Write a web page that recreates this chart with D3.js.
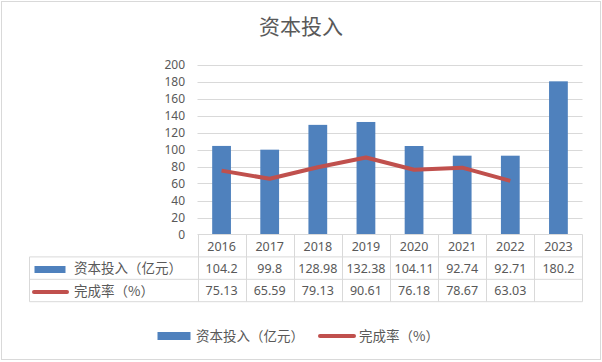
<!DOCTYPE html>
<html>
<head>
<meta charset="utf-8">
<script src="https://cdn.jsdelivr.net/npm/d3@7"></script>
<style>
body{margin:0;background:#fff;}
text{font-family:"Noto Sans CJK SC","Noto Sans",sans-serif;fill:#595959;}
text.num{font-family:"Noto Sans",sans-serif;}
</style>
</head>
<body>
<script>
// data
var years = ["2016","2017","2018","2019","2020","2021","2022","2023"]
var invest = [104.2,99.8,128.98,132.38,104.11,92.74,92.71,180.2]
var rate = [75.13,65.59,79.13,90.61,76.18,78.67,63.03,null]
var yTicks = [0,20,40,60,80,100,120,140,160,180,200]
var investName = "资本投入（亿元）"
var rateName = "完成率（%）"

var W = 602, H = 362
var plotLeft = 197.5, plotRight = 582.5, plotTop = 64.5, plotBottom = 234.5
var rowH = 22.4, tableLeft = 29.5
var blue = "#4f81bd", red = "#c0504d", grid = "#d9d9d9"

var svg = d3.select("body").append("svg")
	.attr("width", W).attr("height", H)

//border
svg.append("rect")
	.attr("x",1.5).attr("y",1.5).attr("width",W-3).attr("height",H-4)
	.attr("fill","#fff").attr("stroke","#d9d9d9")

//title
svg.append("text")
	.attr("x",301).attr("y",34)
	.attr("text-anchor","middle")
	.attr("font-size","21px")
	.text("资本投入")

var x = d3.scaleBand().domain(years).range([plotLeft,plotRight]).paddingInner(0.61).paddingOuter(0.305)
var xc = d3.scaleBand().domain(years).range([plotLeft,plotRight])
var y = d3.scaleLinear().domain([0,200]).range([plotBottom,plotTop])

//grid
svg.append("g").selectAll("line").data(yTicks.slice(1)).enter()
	.append("line")
		.attr("x1",plotLeft).attr("x2",plotRight)
		.attr("y1",function(d){return Math.round(y(d))+0.5})
		.attr("y2",function(d){return Math.round(y(d))+0.5})
		.attr("stroke",grid)

//y labels
svg.append("g").selectAll("text").data(yTicks).enter()
	.append("text")
		.attr("class","num")
		.attr("x",185).attr("y",function(d){return y(d)+4.5})
		.attr("text-anchor","end")
		.attr("font-size","12px")
		.text(function(d){return d})

//bars
svg.append("g").selectAll("rect").data(invest).enter()
	.append("rect")
		.attr("x",function(d,i){return x(years[i])})
		.attr("width",x.bandwidth())
		.attr("y",function(d){return y(d)})
		.attr("height",function(d){return y(0)-y(d)})
		.attr("fill",blue)

//line
var line = d3.line()
	.defined(function(d){return d != null})
	.x(function(d,i){return xc(years[i])+xc.bandwidth()/2})
	.y(function(d){return y(d)})
svg.append("path").datum(rate)
	.attr("d",line)
	.attr("fill","none").attr("stroke",red)
	.attr("stroke-width",4).attr("stroke-linejoin","round")

//table
var t = svg.append("g")
var r0 = plotBottom, r1 = plotBottom+rowH, r2 = plotBottom+2*rowH, r3 = plotBottom+3*rowH
t.append("line").attr("x1",plotLeft).attr("x2",plotRight).attr("y1",r0).attr("y2",r0).attr("stroke",grid)
;[r1,r2,r3].forEach(function(yy){
	t.append("line").attr("x1",tableLeft).attr("x2",plotRight).attr("y1",yy).attr("y2",yy).attr("stroke",grid)
})
t.append("line").attr("x1",tableLeft).attr("x2",tableLeft).attr("y1",r1).attr("y2",r3).attr("stroke",grid)
years.forEach(function(yr){
	var xx = Math.round(xc(yr))+0.5
	t.append("line").attr("x1",xx).attr("x2",xx).attr("y1",r0).attr("y2",r3).attr("stroke",grid)
})
t.append("line").attr("x1",plotRight).attr("x2",plotRight).attr("y1",r0).attr("y2",r3).attr("stroke",grid)

var cx = function(i){return xc(years[i])+xc.bandwidth()/2}
years.forEach(function(yr,i){
	t.append("text").attr("class","num").attr("x",cx(i)).attr("y",r0+16).attr("text-anchor","middle")
		.attr("font-size","12.5px").text(yr)
	t.append("text").attr("class","num").attr("x",cx(i)).attr("y",r1+16).attr("text-anchor","middle")
		.attr("font-size","12.5px").text(invest[i])
	if (rate[i] != null){
	t.append("text").attr("class","num").attr("x",cx(i)).attr("y",r2+16).attr("text-anchor","middle")
		.attr("font-size","12.5px").text(rate[i].toFixed(2))}
})

//table legend keys
t.append("rect").attr("x",34.5).attr("y",266).attr("width",31).attr("height",7).attr("fill",blue)
t.append("text").attr("x",74).attr("y",r1+16.5).attr("font-size","13.5px").text(investName)
t.append("line").attr("x1",34).attr("x2",67).attr("y1",292).attr("y2",292)
	.attr("stroke",red).attr("stroke-width",4).attr("stroke-linecap","round")
t.append("text").attr("x",74).attr("y",r2+16.5).attr("font-size","13.5px").text(rateName)

//bottom legend
var lg = svg.append("g")
lg.append("rect").attr("x",157.5).attr("y",332).attr("width",33).attr("height",8).attr("fill",blue)
lg.append("text").attr("x",196).attr("y",341).attr("font-size","13.5px").text(investName)
lg.append("line").attr("x1",320).attr("x2",354).attr("y1",336).attr("y2",336)
	.attr("stroke",red).attr("stroke-width",4).attr("stroke-linecap","round")
lg.append("text").attr("x",359).attr("y",341).attr("font-size","13.5px").text(rateName)
</script>
</body>
</html>
